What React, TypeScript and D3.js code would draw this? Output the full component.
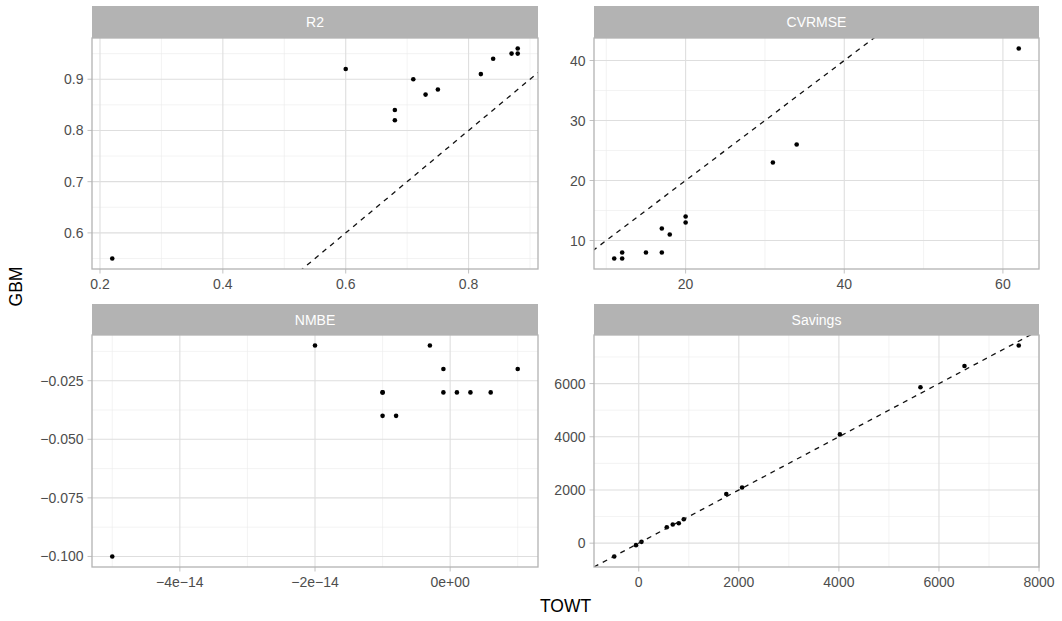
import React, { useEffect, useRef } from "react";
import * as d3 from "d3";

// panel names (facet order)
const panelNames = ["R2", "CVRMSE", "NMBE", "Savings"];

// R2
const r2Towt = [0.22, 0.6, 0.68, 0.68, 0.71, 0.73, 0.75, 0.82, 0.84, 0.87, 0.88, 0.88];
const r2Gbm = [0.55, 0.92, 0.84, 0.82, 0.9, 0.87, 0.88, 0.91, 0.94, 0.95, 0.95, 0.96];
// CVRMSE
const cvTowt = [11, 12, 12, 15, 17, 17, 18, 20, 20, 31, 34, 62];
const cvGbm = [7, 8, 7, 8, 12, 8, 11, 14, 13, 23, 26, 42];
// NMBE
const nmTowt = [-5e-14, -2e-14, -1e-14, -1e-14, -1e-14, -0.8e-14, -0.3e-14, -0.1e-14, -0.1e-14, 0.1e-14, 0.3e-14, 0.6e-14, 1e-14];
const nmGbm = [-0.1, -0.01, -0.03, -0.03, -0.04, -0.04, -0.01, -0.02, -0.03, -0.03, -0.03, -0.03, -0.02];
// Savings
const svTowt = [-490, -55, 55, 560, 680, 800, 900, 1750, 2065, 4020, 5630, 6510, 7595];
const svGbm = [-500, -75, 50, 600, 700, 750, 900, 1850, 2095, 4090, 5860, 6660, 7430];

// ticks and labels
const r2XTicks = [0.2, 0.4, 0.6, 0.8];
const r2XLabels = ["0.2", "0.4", "0.6", "0.8"];
const r2YTicks = [0.6, 0.7, 0.8, 0.9];
const r2YLabels = ["0.6", "0.7", "0.8", "0.9"];
const cvXTicks = [20, 40, 60];
const cvXLabels = ["20", "40", "60"];
const cvYTicks = [10, 20, 30, 40];
const cvYLabels = ["10", "20", "30", "40"];
const nmXTicks = [-4e-14, -2e-14, 0];
const nmXLabels = ["\u22124e\u221214", "\u22122e\u221214", "0e+00"];
const nmYTicks = [-0.1, -0.075, -0.05, -0.025];
const nmYLabels = ["\u22120.100", "\u22120.075", "\u22120.050", "\u22120.025"];
const svXTicks = [0, 2000, 4000, 6000, 8000];
const svXLabels = ["0", "2000", "4000", "6000", "8000"];
const svYTicks = [0, 2000, 4000, 6000];
const svYLabels = ["0", "2000", "4000", "6000"];

const W = 1062;
const H = 621;
const FONT = "'Liberation Sans', Arial, Helvetica, sans-serif";

const expand = (vals: number[]) => {
  const [lo, hi] = d3.extent(vals) as [number, number];
  const pad = (hi - lo) * 0.05;
  return [lo - pad, hi + pad];
};

// minor breaks halfway between majors, extended one step each side
const minorBreaks = (ticks: number[], domain: number[]) => {
  const step = ticks[1] - ticks[0];
  const ext = [ticks[0] - step, ...ticks, ticks[ticks.length - 1] + step];
  const out: number[] = [];
  for (let i = 0; i < ext.length - 1; i++) {
    const m = (ext[i] + ext[i + 1]) / 2;
    if (m >= domain[0] && m <= domain[1]) out.push(m);
  }
  return out;
};

const App = () => {
  const ref = useRef<SVGSVGElement>(null);

  useEffect(() => {
    const svg = d3.select(ref.current);
    svg.selectAll("*").remove();

    const cols = [
      { x0: 92, x1: 538 },
      { x0: 594, x1: 1039 },
    ];
    const rows = [
      { s0: 6, p0: 38, p1: 269 },
      { s0: 304, p0: 335, p1: 567 },
    ];

    const panels = [
      { xs: r2Towt, ys: r2Gbm, xt: r2XTicks, xl: r2XLabels, yt: r2YTicks, yl: r2YLabels },
      { xs: cvTowt, ys: cvGbm, xt: cvXTicks, xl: cvXLabels, yt: cvYTicks, yl: cvYLabels },
      { xs: nmTowt, ys: nmGbm, xt: nmXTicks, xl: nmXLabels, yt: nmYTicks, yl: nmYLabels },
      { xs: svTowt, ys: svGbm, xt: svXTicks, xl: svXLabels, yt: svYTicks, yl: svYLabels },
    ];

    panels.forEach((p, i) => {
      const col = cols[i % 2];
      const row = rows[Math.floor(i / 2)];
      const xDom = expand(p.xs);
      const yDom = expand(p.ys);
      const x = d3.scaleLinear().domain(xDom).range([col.x0, col.x1]);
      const y = d3.scaleLinear().domain(yDom).range([row.p1, row.p0]);
      const g = svg.append("g");

      // strip
      g.append("rect")
        .attr("x", col.x0)
        .attr("y", row.s0)
        .attr("width", col.x1 - col.x0)
        .attr("height", row.p0 - row.s0)
        .attr("fill", "#B3B3B3");
      g.append("text")
        .attr("x", (col.x0 + col.x1) / 2)
        .attr("y", (row.s0 + row.p0) / 2 + 5)
        .attr("text-anchor", "middle")
        .attr("fill", "white")
        .attr("font-size", 14)
        .text(panelNames[i]);

      g.append("rect")
        .attr("x", col.x0)
        .attr("y", row.p0)
        .attr("width", col.x1 - col.x0)
        .attr("height", row.p1 - row.p0)
        .attr("fill", "white");

      // minor grid
      g.selectAll(".mx")
        .data(minorBreaks(p.xt, xDom))
        .join("line")
        .attr("x1", (d) => x(d))
        .attr("x2", (d) => x(d))
        .attr("y1", row.p0)
        .attr("y2", row.p1)
        .attr("stroke", "#EBEBEB")
        .attr("stroke-width", 0.6);
      g.selectAll(".my")
        .data(minorBreaks(p.yt, yDom))
        .join("line")
        .attr("x1", col.x0)
        .attr("x2", col.x1)
        .attr("y1", (d) => y(d))
        .attr("y2", (d) => y(d))
        .attr("stroke", "#EBEBEB")
        .attr("stroke-width", 0.6);
      // major grid
      g.selectAll(".gx")
        .data(p.xt)
        .join("line")
        .attr("x1", (d) => x(d))
        .attr("x2", (d) => x(d))
        .attr("y1", row.p0)
        .attr("y2", row.p1)
        .attr("stroke", "#DEDEDE")
        .attr("stroke-width", 1.1);
      g.selectAll(".gy")
        .data(p.yt)
        .join("line")
        .attr("x1", col.x0)
        .attr("x2", col.x1)
        .attr("y1", (d) => y(d))
        .attr("y2", (d) => y(d))
        .attr("stroke", "#DEDEDE")
        .attr("stroke-width", 1.1);

      // clip for identity line
      const clipId = "clip" + i;
      svg
        .append("clipPath")
        .attr("id", clipId)
        .append("rect")
        .attr("x", col.x0)
        .attr("y", row.p0)
        .attr("width", col.x1 - col.x0)
        .attr("height", row.p1 - row.p0);

      const pts = p.xs.map((v, k) => [v, p.ys[k]]);
      g.selectAll(".pt")
        .data(pts)
        .join("circle")
        .attr("cx", (d) => x(d[0]))
        .attr("cy", (d) => y(d[1]))
        .attr("r", 2.3)
        .attr("fill", "black");

      const lo = Math.min(xDom[0], yDom[0]);
      const hi = Math.max(xDom[1], yDom[1]);
      g.append("line")
        .attr("clip-path", `url(#${clipId})`)
        .attr("x1", x(lo))
        .attr("y1", y(lo))
        .attr("x2", x(hi))
        .attr("y2", y(hi))
        .attr("stroke", "#111")
        .attr("stroke-width", 1.3)
        .attr("stroke-dasharray", "5,5");

      // border
      g.append("rect")
        .attr("x", col.x0)
        .attr("y", row.p0)
        .attr("width", col.x1 - col.x0)
        .attr("height", row.p1 - row.p0)
        .attr("fill", "none")
        .attr("stroke", "#B3B3B3")
        .attr("stroke-width", 1.3);

      // ticks + labels
      g.selectAll(".tx")
        .data(p.xt)
        .join("line")
        .attr("x1", (d) => x(d))
        .attr("x2", (d) => x(d))
        .attr("y1", row.p1)
        .attr("y2", row.p1 + 4.5)
        .attr("stroke", "#B3B3B3")
        .attr("stroke-width", 0.8);
      g.selectAll(".lx")
        .data(p.xt)
        .join("text")
        .attr("x", (d) => x(d))
        .attr("y", row.p1 + 20)
        .attr("text-anchor", "middle")
        .attr("fill", "#4D4D4D")
        .attr("font-size", 14)
        .text((d, k) => p.xl[k]);
      g.selectAll(".ty")
        .data(p.yt)
        .join("line")
        .attr("x1", col.x0 - 4.5)
        .attr("x2", col.x0)
        .attr("y1", (d) => y(d))
        .attr("y2", (d) => y(d))
        .attr("stroke", "#B3B3B3")
        .attr("stroke-width", 0.8);
      g.selectAll(".ly")
        .data(p.yt)
        .join("text")
        .attr("x", col.x0 - 8.5)
        .attr("y", (d) => y(d) + 5)
        .attr("text-anchor", "end")
        .attr("fill", "#4D4D4D")
        .attr("font-size", 14)
        .text((d, k) => p.yl[k]);
    });

    // axis titles
    svg
      .append("text")
      .attr("x", (cols[0].x0 + cols[1].x1) / 2)
      .attr("y", 612)
      .attr("text-anchor", "middle")
      .attr("font-size", 17.5)
      .attr("fill", "black")
      .text("TOWT");
    svg
      .append("text")
      .attr("transform", `translate(22,${(rows[0].s0 + rows[1].p1) / 2}) rotate(-90)`)
      .attr("text-anchor", "middle")
      .attr("font-size", 17.5)
      .attr("fill", "black")
      .text("GBM");
  }, []);

  return (
    <svg
      ref={ref}
      width={W}
      height={H}
      style={{ position: "absolute", left: 0, top: 0, background: "white", fontFamily: FONT }}
    />
  );
};

export default App;
